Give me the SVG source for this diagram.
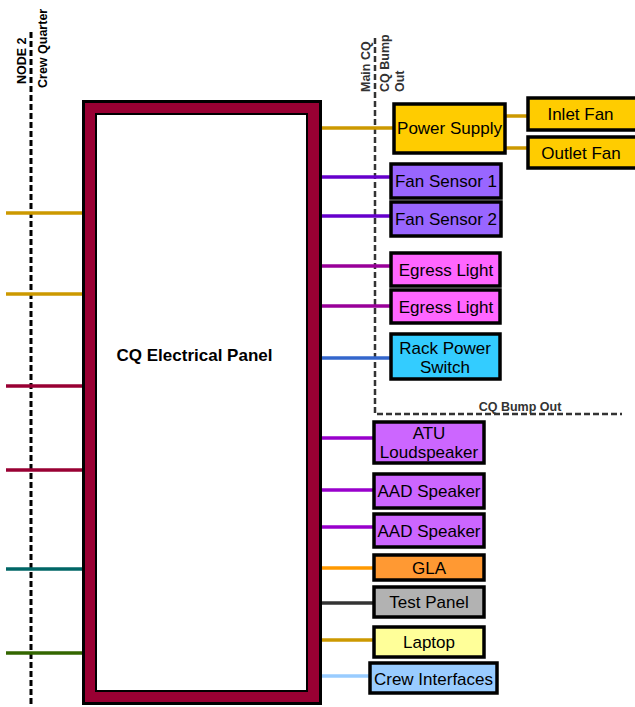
<svg xmlns="http://www.w3.org/2000/svg" width="635" height="707" viewBox="0 0 635 707">
<style>
.box{stroke:#000;stroke-width:3.5}
.t{font-family:"Liberation Sans",Arial,sans-serif;font-size:17px;fill:#000;text-anchor:middle}
.lbl{font-family:"Liberation Sans",Arial,sans-serif;font-size:12.5px;font-weight:bold}
.c{fill:none;stroke-width:3.5}
</style>
<rect width="635" height="707" fill="#fff"/>
<g id="boundaries">
<line x1="31" y1="32" x2="31" y2="707" stroke="#000" stroke-width="3" stroke-dasharray="6,3"/>
<polyline points="375,38 375,414 622,414" fill="none" stroke="#333" stroke-width="2.5" stroke-dasharray="6,3"/>
<text class="lbl" fill="#000" transform="translate(26,84) rotate(-90)">NODE 2</text>
<text class="lbl" fill="#000" transform="translate(47,88) rotate(-90)">Crew Quarter</text>
<text class="lbl" fill="#333" transform="translate(370,92) rotate(-90)">Main CQ</text>
<text class="lbl" fill="#333" transform="translate(389,92) rotate(-90)">CQ Bump</text>
<text class="lbl" fill="#333" transform="translate(404,92) rotate(-90)">Out</text>
<text class="lbl" fill="#333" x="520" y="411" text-anchor="middle">CQ Bump Out</text>
</g>
<g id="connectors">
<line class="c" x1="6" y1="213" x2="84" y2="213" stroke="#CC9900"/>
<line class="c" x1="6" y1="294" x2="84" y2="294" stroke="#CC9900"/>
<line class="c" x1="6" y1="386" x2="84" y2="386" stroke="#990033"/>
<line class="c" x1="6" y1="470" x2="84" y2="470" stroke="#990033"/>
<line class="c" x1="6" y1="569" x2="84" y2="569" stroke="#006666"/>
<line class="c" x1="6" y1="653" x2="84" y2="653" stroke="#336600"/>
<line class="c" x1="320" y1="128" x2="394" y2="128" stroke="#CC9900"/>
<line class="c" x1="505" y1="116" x2="528" y2="116" stroke="#CC9900"/>
<line class="c" x1="505" y1="148" x2="528" y2="148" stroke="#CC9900"/>
<line class="c" x1="320" y1="177" x2="391" y2="177" stroke="#6600CC"/>
<line class="c" x1="320" y1="216" x2="391" y2="216" stroke="#6600CC"/>
<line class="c" x1="320" y1="266" x2="391" y2="266" stroke="#990099"/>
<line class="c" x1="320" y1="306" x2="391" y2="306" stroke="#990099"/>
<line class="c" x1="320" y1="358" x2="391" y2="358" stroke="#3366CC"/>
<line class="c" x1="320" y1="438" x2="374" y2="438" stroke="#9900CC"/>
<line class="c" x1="320" y1="490" x2="374" y2="490" stroke="#9900CC"/>
<line class="c" x1="320" y1="527" x2="374" y2="527" stroke="#9900CC"/>
<line class="c" x1="320" y1="568" x2="374" y2="568" stroke="#FF9900"/>
<line class="c" x1="320" y1="603" x2="374" y2="603" stroke="#333333"/>
<line class="c" x1="320" y1="640" x2="374" y2="640" stroke="#CC9900"/>
<line class="c" x1="320" y1="676" x2="370" y2="676" stroke="#99CCFF"/>
</g>
<g id="panel">
<rect x="83.5" y="101.5" width="237" height="602" fill="#990033" stroke="#000" stroke-width="3"/>
<rect x="96" y="114" width="211" height="577" fill="#fff" stroke="#000" stroke-width="2"/>
<text x="194.5" y="361" font-family="'Liberation Sans',Arial,sans-serif" font-size="17" font-weight="bold" text-anchor="middle">CQ Electrical Panel</text>
</g>
<g id="power-supply"><rect class="box" x="394" y="104" width="111" height="49" fill="#FFCC00"/><text class="t" x="449.5" y="134">Power Supply</text></g>
<g id="inlet-fan"><rect class="box" x="528" y="98" width="110" height="32" fill="#FFCC00"/><text class="t" x="580.5" y="120">Inlet Fan</text></g>
<g id="outlet-fan"><rect class="box" x="528" y="137" width="110" height="31" fill="#FFCC00"/><text class="t" x="581" y="159">Outlet Fan</text></g>
<g id="fan-sensor-1"><rect class="box" x="391" y="164" width="110" height="34" fill="#9966FF"/><text class="t" x="446" y="187">Fan Sensor 1</text></g>
<g id="fan-sensor-2"><rect class="box" x="391" y="202" width="110" height="34" fill="#9966FF"/><text class="t" x="446" y="225">Fan Sensor 2</text></g>
<g id="egress-light-1"><rect class="box" x="391" y="253" width="109" height="33" fill="#FF66FF"/><text class="t" x="446" y="276">Egress Light</text></g>
<g id="egress-light-2"><rect class="box" x="391" y="290" width="109" height="33" fill="#FF66FF"/><text class="t" x="446" y="313">Egress Light</text></g>
<g id="rack-power-switch"><rect class="box" x="391" y="334" width="109" height="45" fill="#33CCFF"/><text class="t" x="445" y="354">Rack Power</text><text class="t" x="445" y="373">Switch</text></g>
<g id="atu-loudspeaker"><rect class="box" x="374" y="422" width="110" height="41" fill="#CC66FF"/><text class="t" x="429" y="439">ATU</text><text class="t" x="429" y="458">Loudspeaker</text></g>
<g id="aad-speaker-1"><rect class="box" x="374" y="474" width="110" height="34" fill="#CC66FF"/><text class="t" x="429" y="497">AAD Speaker</text></g>
<g id="aad-speaker-2"><rect class="box" x="374" y="514" width="110" height="33" fill="#CC66FF"/><text class="t" x="429" y="537">AAD Speaker</text></g>
<g id="gla"><rect class="box" x="374" y="555" width="110" height="25" fill="#FF9933"/><text class="t" x="429" y="574">GLA</text></g>
<g id="test-panel"><rect class="box" x="374" y="587" width="110" height="30" fill="#B2B2B2"/><text class="t" x="429" y="608">Test Panel</text></g>
<g id="laptop"><rect class="box" x="374" y="627" width="110" height="30" fill="#FFFF99"/><text class="t" x="429" y="648">Laptop</text></g>
<g id="crew-interfaces"><rect class="box" x="370" y="663" width="127" height="30" fill="#99CCFF"/><text class="t" x="433.5" y="685">Crew Interfaces</text></g>
</svg>
